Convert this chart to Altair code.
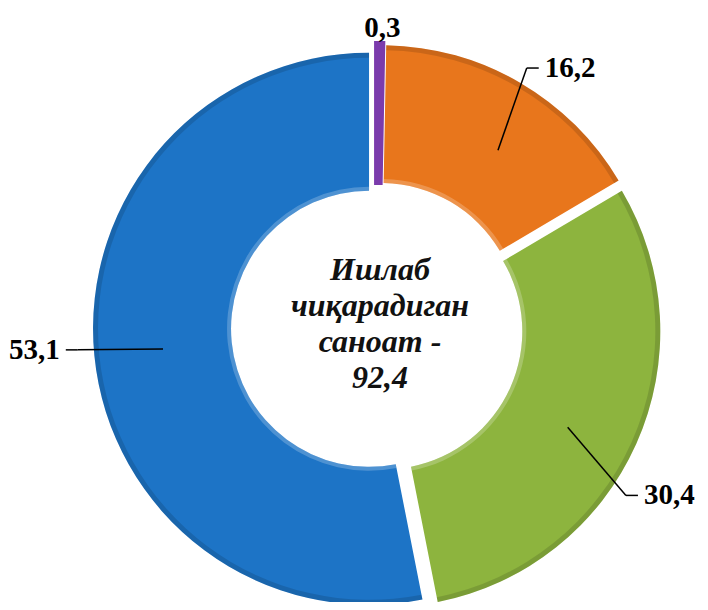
import altair as alt
import pandas as pd

# ---- data ----
values = [0.3, 16.2, 30.4, 53.1]
labels = ["0,3", "16,2", "30,4", "53,1"]
colors = ["#7B3BAC", "#E8761C", "#8DB43E", "#1D74C6"]
center_lines = ["Ишлаб", "чиқарадиган", "саноат -", "92,4"]

# ---- layout (pixels / degrees) ----
CX, CY = 369, 320          # donut centre in plot coordinates
R_OUT, R_IN = 276, 138     # ring radii
EXPLODE = 8                # radial offset of every slice
R_ANCHOR, R_ELBOW = 215, 300
TICK, GAP = 12, 6
anchor_shift = [0, 4, 3.4, 0]      # label placement nudges (deg)
elbow_shift = [0.5, -0.3, 9.8, 1.4]
SERIF = "Liberation Serif"

df = pd.DataFrame({
    "order": list(range(len(values))),
    "value": values,
    "label": labels,
    "color": colors,
    "ash": anchor_shift,
    "esh": elbow_shift,
})

base = (
    alt.Chart(df)
    .transform_joinaggregate(total="sum(value)")
    .transform_window(cum="sum(value)", sort=[alt.SortField("order")], frame=[None, 0])
    .transform_calculate(
        a0="(datum.cum - datum.value) / datum.total * 2 * PI",
        a1="datum.cum / datum.total * 2 * PI",
        mid="(datum.a0 + datum.a1) / 2",
        ex=f"{CX} + {EXPLODE} * sin(datum.mid)",
        ey=f"{CY} - {EXPLODE} * cos(datum.mid)",
        aa="datum.mid + datum.ash * PI / 180",
        ea="datum.mid + datum.esh * PI / 180",
        ax=f"{CX} + {R_ANCHOR} * sin(datum.aa)",
        ay=f"{CY} - {R_ANCHOR} * cos(datum.aa)",
        bx=f"{CX} + {R_ELBOW} * sin(datum.ea)",
        by=f"{CY} - {R_ELBOW} * cos(datum.ea)",
        side="datum.value < 1 ? 'c' : (sin(datum.ea) > 0 ? 'r' : 'l')",
        cx2=f"datum.side == 'r' ? datum.bx + {TICK} : datum.bx - {TICK}",
        tx=f"datum.side == 'c' ? datum.bx : (datum.side == 'r' ? datum.cx2 + {GAP} : datum.cx2 - {GAP})",
    )
)

X = lambda f: alt.X(f, type="quantitative", scale=None, axis=None)
Y = lambda f: alt.Y(f, type="quantitative", scale=None, axis=None)
ang = dict(theta=alt.Theta("a0:Q", scale=None, stack=None), theta2="a1:Q", x=X("ex"), y=Y("ey"))

arcs = base.mark_arc(outerRadius=R_OUT, innerRadius=R_IN).encode(
    color=alt.Color("color:N", scale=None),
    stroke=alt.Stroke("color:N", scale=None),
    strokeWidth=alt.condition("datum.value < 1", alt.value(6), alt.value(0)),
    **ang,
)
# subtle bevel: darker outer rim, lighter inner rim
rim_out = base.transform_filter("datum.value >= 1").mark_arc(
    outerRadius=R_OUT, innerRadius=R_OUT - 5, color="#000000", opacity=0.13
).encode(**ang)
rim_in = base.transform_filter("datum.value >= 1").mark_arc(
    outerRadius=R_IN + 4, innerRadius=R_IN, color="#ffffff", opacity=0.22
).encode(**ang)

leaders = base.transform_filter("datum.side != 'c'")
lead1 = leaders.mark_rule(color="#000000", strokeWidth=1.5).encode(
    x=X("ax"), y=Y("ay"), x2="bx:Q", y2="by:Q"
)
lead2 = leaders.mark_rule(color="#000000", strokeWidth=1.5).encode(
    x=X("bx"), y=Y("by"), x2="cx2:Q", y2="by:Q"
)

font = dict(font=SERIF, fontWeight="bold", fontSize=29, color="#000000", baseline="middle")
txt_r = base.transform_filter("datum.side == 'r'").mark_text(align="left", **font).encode(
    x=X("tx"), y=Y("by"), text="label:N")
txt_l = base.transform_filter("datum.side == 'l'").mark_text(align="right", **font).encode(
    x=X("tx"), y=Y("by"), text="label:N")
txt_c = base.transform_filter("datum.side == 'c'").mark_text(align="center", **font).encode(
    x=X("tx"), y=Y("by"), text="label:N")

center = alt.Chart(pd.DataFrame({"t": ["\n".join(center_lines)]})).mark_text(
    font=SERIF, fontWeight="bold", fontStyle="italic", fontSize=32,
    lineHeight=36, lineBreak="\n", align="center", baseline="middle", color="#111111",
).encode(x=alt.value(CX + 3), y=alt.value(CY - 58), text="t:N")

chart = alt.layer(arcs, rim_out, rim_in, lead1, lead2, txt_r, txt_l, txt_c, center).properties(
    width=692, height=594, padding=0, autosize=alt.AutoSizeParams(type="none"),
    background="#ffffff",
).configure_view(stroke=None)

chart.save("out.html", embed_options={"renderer": "svg", "actions": False})
